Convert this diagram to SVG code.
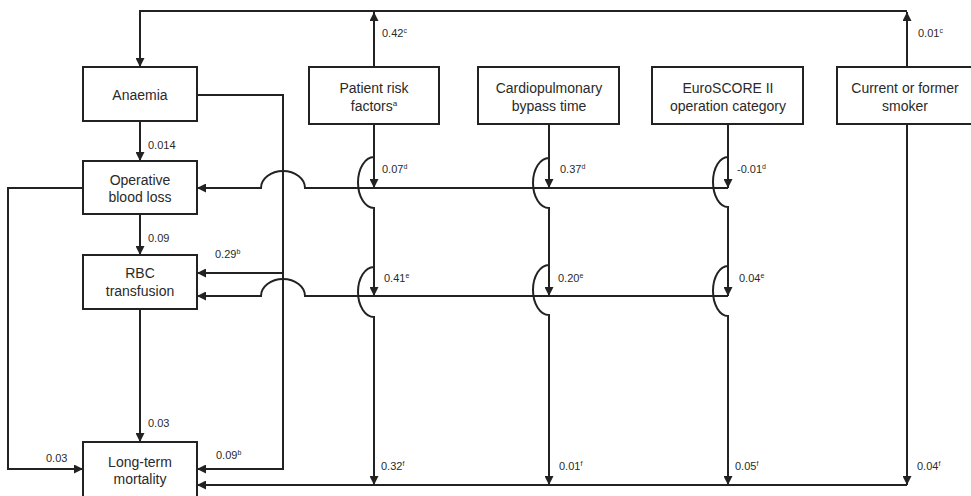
<svg xmlns="http://www.w3.org/2000/svg" width="971" height="496" viewBox="0 0 971 496">
<defs>
<marker id="ah" viewBox="0 0 10 10" refX="10" refY="5" markerWidth="9" markerHeight="9" markerUnits="userSpaceOnUse" orient="auto">
<path d="M0,0 L10,5 L0,10 z" fill="#222"/>
</marker>
<style>
.box{fill:#fff;stroke:#222;stroke-width:2}
.t{font-family:"Liberation Sans",Arial,sans-serif;font-size:14px;fill:#2a2a2a;text-anchor:middle}
.l{font-family:"Liberation Sans",Arial,sans-serif;font-size:11px;fill:#2a2a2a}
.c{fill:none;stroke:#222;stroke-width:2}
.a{fill:none;stroke:#222;stroke-width:2;marker-end:url(#ah)}
</style>
</defs>
<rect width="971" height="496" fill="#fff"/>
<g id="connectors">
<path class="a" d="M907,11 L140,11 L140,67"/>
<path class="a" d="M374,67 L374,12"/>
<path class="a" d="M907,67 L907,12"/>
<path class="a" d="M140,121 L140,161"/>
<path class="a" d="M140,214 L140,255"/>
<path class="a" d="M140,309 L140,442"/>
<path class="a" d="M197,95 L283,95 L283,469 L197,469"/>
<path class="a" d="M283,273 L197,273"/>
<path class="a" d="M83,188 L8,188 L8,469 L83,469"/>
<path class="a" d="M728,188 L305,188 A22,17 0 0 0 261,188 L197,188"/>
<path class="a" d="M728,296 L305,296 A22,17 0 0 0 261,296 L197,296"/>
<path class="a" d="M907,485 L197,485"/>
<path class="a" d="M374,124 L374,157 A16,25.5 0 0 0 374,208 L374,267 A16,25 0 0 0 374,317 L374,485"/>
<path class="a" d="M374,157 L374,188"/>
<path class="a" d="M374,267 L374,296"/>
<path class="a" d="M549,124 L549,158 A16,25 0 0 0 549,208 L549,265 A16,25 0 0 0 549,315 L549,485"/>
<path class="a" d="M549,158 L549,188"/>
<path class="a" d="M549,265 L549,296"/>
<path class="a" d="M728,124 L728,157 A15,25 0 0 0 728,207 L728,266 A15,25 0 0 0 728,316 L728,485"/>
<path class="a" d="M728,157 L728,188"/>
<path class="a" d="M728,266 L728,296"/>
<path class="a" d="M907,124 L907,485"/>
</g>
<g id="labels">
<text class="l" x="382" y="37">0.42<tspan font-size="7" dy="-4">c</tspan></text>
<text class="l" x="918" y="37">0.01<tspan font-size="7" dy="-4">c</tspan></text>
<text class="l" x="148" y="149">0.014</text>
<text class="l" x="148" y="242">0.09</text>
<text class="l" x="148" y="427">0.03</text>
<text class="l" x="46" y="462">0.03</text>
<text class="l" x="215" y="258">0.29<tspan font-size="7" dy="-4">b</tspan></text>
<text class="l" x="216" y="459">0.09<tspan font-size="7" dy="-4">b</tspan></text>
<text class="l" x="382" y="173">0.07<tspan font-size="7" dy="-4">d</tspan></text>
<text class="l" x="560" y="173">0.37<tspan font-size="7" dy="-4">d</tspan></text>
<text class="l" x="737" y="173">-0.01<tspan font-size="7" dy="-4">d</tspan></text>
<text class="l" x="384" y="282">0.41<tspan font-size="7" dy="-4">e</tspan></text>
<text class="l" x="558" y="282">0.20<tspan font-size="7" dy="-4">e</tspan></text>
<text class="l" x="739" y="282">0.04<tspan font-size="7" dy="-4">e</tspan></text>
<text class="l" x="381" y="470">0.32<tspan font-size="7" dy="-4">f</tspan></text>
<text class="l" x="559" y="470">0.01<tspan font-size="7" dy="-4">f</tspan></text>
<text class="l" x="735" y="470">0.05<tspan font-size="7" dy="-4">f</tspan></text>
<text class="l" x="917" y="470">0.04<tspan font-size="7" dy="-4">f</tspan></text>
</g>
<g id="anaemia"><rect class="box" x="83" y="67" width="114" height="54"/><text class="t" x="140" y="100">Anaemia</text></g>
<g id="blood-loss"><rect class="box" x="83" y="161" width="114" height="53"/><text class="t" x="140" y="185">Operative</text><text class="t" x="140" y="202">blood loss</text></g>
<g id="rbc"><rect class="box" x="83" y="255" width="114" height="54"/><text class="t" x="140" y="278">RBC</text><text class="t" x="140" y="296">transfusion</text></g>
<g id="mortality"><rect class="box" x="83" y="442" width="114" height="57"/><text class="t" x="140" y="467">Long-term</text><text class="t" x="140" y="484">mortality</text></g>
<g id="patient-risk"><rect class="box" x="309" y="67" width="130" height="57"/><text class="t" x="374" y="93">Patient risk</text><text class="t" x="374" y="111">factors<tspan font-size="8" dy="-5">a</tspan></text></g>
<g id="cpb"><rect class="box" x="478" y="67" width="141" height="57"/><text class="t" x="549" y="93">Cardiopulmonary</text><text class="t" x="549" y="111">bypass time</text></g>
<g id="euroscore"><rect class="box" x="652" y="67" width="151" height="57"/><text class="t" x="728" y="93">EuroSCORE II</text><text class="t" x="728" y="111">operation category</text></g>
<g id="smoker"><rect class="box" x="837" y="67" width="136" height="57"/><text class="t" x="905" y="93">Current or former</text><text class="t" x="905" y="111">smoker</text></g>
</svg>
